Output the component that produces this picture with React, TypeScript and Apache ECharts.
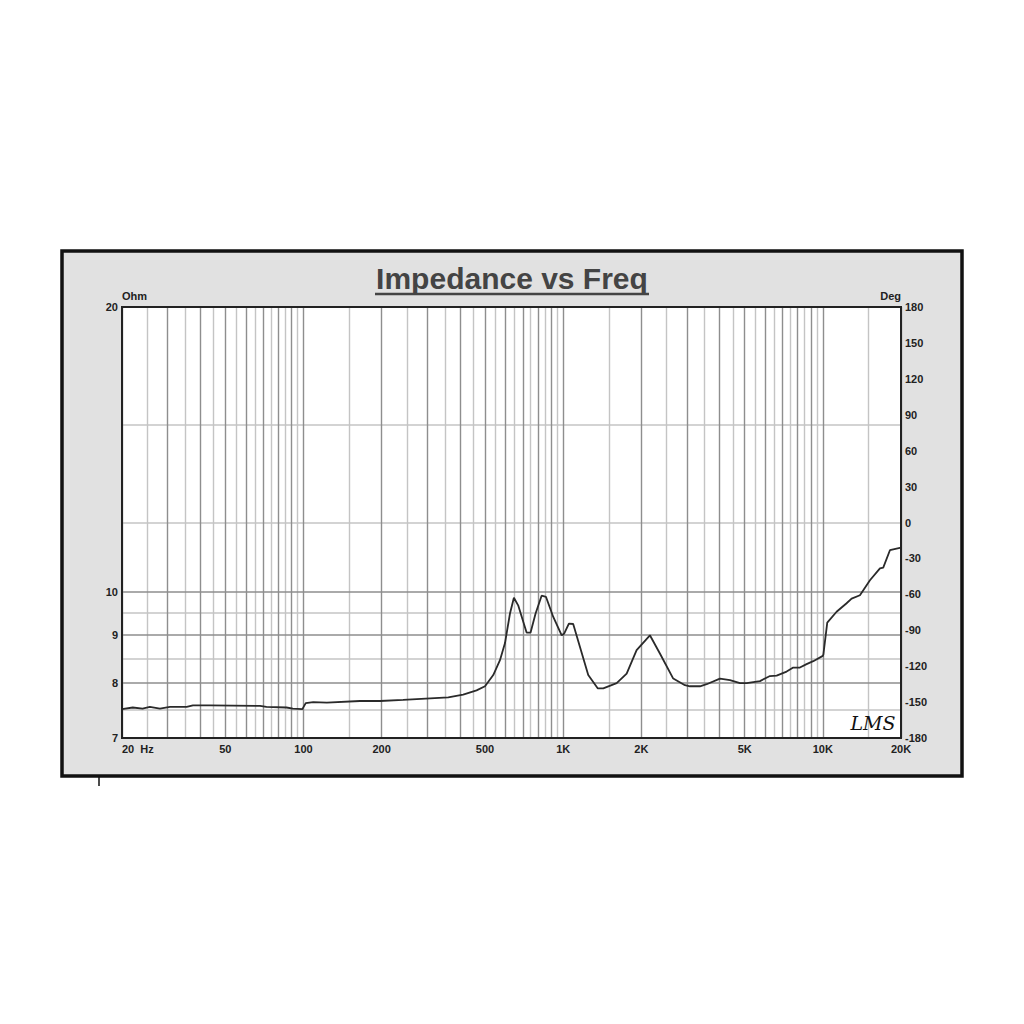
import React, { useEffect, useRef } from "react";
import * as echarts from "echarts";

// Impedance curve (frequency in Hz, impedance in Ohm)
const freqHz = [
  20, 22, 24, 25.6, 28, 30.6, 35.5, 37.5, 43.6, 68, 72, 86, 91, 99, 102, 109, 123, 165, 197, 242,
  361, 412, 464, 500, 538, 571, 597, 624, 646, 671, 723, 749, 783, 826, 859, 916, 987, 1010, 1052,
  1093, 1160, 1249, 1358, 1427, 1607, 1756, 1918, 2158, 2358, 2654, 2944, 3078, 3364, 3569, 4016,
  4389, 4796, 5089, 5726, 6255, 6638, 7254, 7692, 8162, 8658, 9183, 10000, 10050, 10400, 11298,
  12346, 12906, 13896, 15186, 16594, 17086, 18130, 20000,
];
const impedanceOhm = [
  7.51, 7.54, 7.52, 7.55, 7.52, 7.55, 7.55, 7.58, 7.58, 7.57, 7.55, 7.54, 7.52, 7.51, 7.62, 7.64,
  7.63, 7.66, 7.66, 7.68, 7.73, 7.78, 7.86, 7.94, 8.16, 8.46, 8.82, 9.48, 9.85, 9.67, 9.05, 9.05,
  9.48, 9.9, 9.87, 9.4, 8.99, 9.03, 9.25, 9.24, 8.74, 8.16, 7.9, 7.9, 8.0, 8.19, 8.67, 8.99, 8.6,
  8.09, 7.96, 7.94, 7.94, 7.98, 8.09, 8.06, 8.0, 8.0, 8.04, 8.14, 8.15, 8.23, 8.31, 8.31, 8.38,
  8.44, 8.55, 8.58, 9.27, 9.52, 9.72, 9.83, 9.91, 10.28, 10.58, 10.6, 11.06, 11.13,
];

// Axis ticks / grid values
const xLabelValues = [20, 50, 100, 200, 500, 1000, 2000, 5000, 10000, 20000];
const xLabelTexts = ["20  Hz", "50", "100", "200", "500", "1K", "2K", "5K", "10K", "20K"];
const xMajorGrid = [
  20, 30, 40, 50, 60, 70, 80, 90, 100, 200, 300, 400, 500, 600, 700, 800, 900, 1000, 2000, 3000,
  4000, 5000, 6000, 7000, 8000, 9000, 10000, 20000,
];
const xMinorGrid = [
  25, 35, 45, 55, 65, 75, 85, 95, 150, 250, 350, 450, 550, 650, 750, 850, 950, 1500, 2500, 3500,
  4500, 5500, 6500, 7500, 8500, 9500, 15000,
];
const ohmLabels = [7, 8, 9, 10, 20];
const ohmMinorGrid = [7.5, 8.5, 9.5, 15];
const degLabels = [-180, -150, -120, -90, -60, -30, 0, 30, 60, 90, 120, 150, 180];
const degGrid = [0];

const MAJOR = "#8e8e8e";
const MINOR = "#c4c4c4";
const LABEL = { color: "#222", fontSize: 11, fontWeight: "bold" as const, fontFamily: "Liberation Sans, Arial, sans-serif" };

export default function App() {
  const ref = useRef<HTMLDivElement>(null);
  useEffect(() => {
    if (!ref.current) return;
    const chart = echarts.init(ref.current, undefined, { renderer: "svg" });
    const data = freqHz.map((f, i) => [f, impedanceOhm[i]]);
    chart.setOption({
      animation: false,
      backgroundColor: "#ffffff",
      grid: {
        left: 122,
        right: 123,
        top: 307,
        bottom: 286,
        show: true,
        backgroundColor: "#ffffff",
        borderColor: "#222",
        borderWidth: 0,
      },
      graphic: [
        {
          type: "rect",
          z: -10,
          shape: { x: 62, y: 251, width: 900, height: 525 },
          style: { fill: "#e1e1e1", stroke: "#111", lineWidth: 3.5 },
        },
        {
          type: "line",
          z: -9,
          shape: { x1: 99, y1: 777, x2: 99, y2: 786 },
          style: { stroke: "#111", lineWidth: 1.5 },
        },
        {
          type: "rect",
          z: 20,
          shape: { x: 122, y: 307, width: 779, height: 431 },
          style: { fill: "none", stroke: "#222", lineWidth: 2 },
        },
        {
          type: "text",
          x: 512,
          y: 278,
          style: {
            text: "Impedance vs Freq",
            fill: "#444",
            font: "bold 30px 'Liberation Sans', Arial, sans-serif",
            textAlign: "center",
            textVerticalAlign: "middle",
          },
        },
        {
          type: "line",
          shape: { x1: 375, y1: 294, x2: 649, y2: 294 },
          style: { stroke: "#444", lineWidth: 2.5 },
        },
        {
          type: "text",
          x: 873,
          y: 723,
          z: 30,
          style: {
            text: "LMS",
            fill: "#111",
            font: "italic 19px 'DejaVu Serif', serif",
            textAlign: "center",
            textVerticalAlign: "middle",
          },
        },
      ],
      xAxis: [
        {
          type: "log",
          logBase: 10,
          min: 20,
          max: 20000,
          position: "bottom",
          z: 3,
          axisLine: { show: false },
          axisTick: { show: false, customValues: xMajorGrid },
          splitLine: { show: true, lineStyle: { color: MAJOR, width: 1.4 } },
          axisLabel: {
            show: true,
            customValues: xLabelValues,
            margin: 5,
            ...LABEL,
            alignMinLabel: "left",
            formatter: (v: number) => {
              const i = xLabelValues.findIndex((x) => Math.abs(x - v) / x < 1e-6);
              return i >= 0 ? xLabelTexts[i] : "";
            },
          },
        },
        {
          type: "log",
          logBase: 10,
          min: 20,
          max: 20000,
          position: "bottom",
          z: 2,
          axisLine: { show: false },
          axisTick: { show: false, customValues: xMinorGrid },
          axisLabel: { show: false },
          splitLine: { show: true, lineStyle: { color: MINOR, width: 1.4 } },
        },
      ],
      yAxis: [
        {
          type: "log",
          logBase: 10,
          min: 7,
          max: 20,
          position: "left",
          z: 3,
          name: "Ohm",
          nameLocation: "end",
          nameGap: 4,
          nameTextStyle: { ...LABEL, align: "left", fontWeight: "bold", padding: [0, 0, 0, 0] },
          axisLine: { show: false },
          axisTick: { show: false, customValues: ohmLabels },
          axisLabel: { customValues: ohmLabels, margin: 4, ...LABEL },
          splitLine: { show: true, lineStyle: { color: MAJOR, width: 1.5 } },
        },
        {
          type: "value",
          min: -180,
          max: 180,
          position: "right",
          z: 2,
          name: "Deg",
          nameLocation: "end",
          nameGap: 4,
          nameTextStyle: { ...LABEL, align: "right" },
          axisLine: { show: false },
          axisTick: { show: false, customValues: degGrid },
          axisLabel: { customValues: degLabels, margin: 4, ...LABEL },
          splitLine: { show: true, lineStyle: { color: MINOR, width: 1.5 } },
        },
        {
          type: "log",
          logBase: 10,
          min: 7,
          max: 20,
          position: "left",
          z: 2,
          axisLine: { show: false },
          axisTick: { show: false, customValues: ohmMinorGrid },
          axisLabel: { show: false },
          splitLine: { show: true, lineStyle: { color: MINOR, width: 1.5 } },
        },
      ],
      series: [
        {
          type: "line",
          name: "Impedance",
          xAxisIndex: 0,
          yAxisIndex: 0,
          data,
          showSymbol: false,
          symbol: "none",
          lineStyle: { color: "#2a2a2a", width: 1.8 },
          z: 10,
        },
      ],
    });
    return () => chart.dispose();
  }, []);
  return (
    <div
      ref={ref}
      style={{ position: "fixed", left: 0, top: 0, width: 1024, height: 1024, background: "#fff" }}
    />
  );
}
